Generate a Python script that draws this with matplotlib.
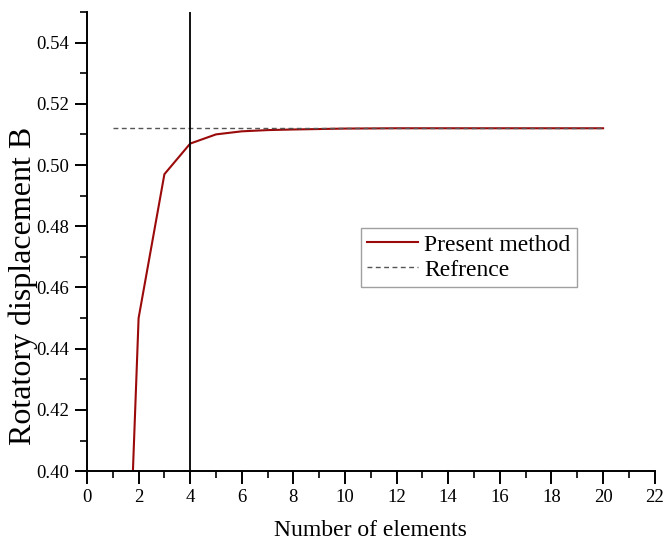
import matplotlib
matplotlib.use("Agg")
import matplotlib.pyplot as plt
from matplotlib.ticker import MultipleLocator

# data
elements = [1, 2, 3, 4, 5, 6, 7, 8, 10, 12, 14, 16, 18, 20]
present = [0.223, 0.450, 0.497, 0.507, 0.510, 0.5110, 0.5114, 0.5116, 0.5119, 0.5120, 0.5120, 0.5120, 0.5120, 0.5120]
ref_x = [1, 20]
ref_y = [0.512, 0.512]
cut_x = 4

plt.rcParams['font.family'] = ['Liberation Serif', 'DejaVu Serif']

fig = plt.figure(figsize=(6.64, 5.41), dpi=100)
ax = fig.add_axes([0.131, 0.129, 0.855, 0.849])

ax.plot(elements, present, color='#9b0a0a', lw=1.5, label='Present method')
ax.plot(ref_x, ref_y, color='#555555', lw=1.0, ls=(0, (3.5, 2.5)), label='Refrence')
ax.axvline(cut_x, color='black', lw=1.3)

ax.set_xlim(0, 22)
ax.set_ylim(0.40, 0.55)
ax.xaxis.set_major_locator(MultipleLocator(2))
ax.xaxis.set_minor_locator(MultipleLocator(1))
ax.yaxis.set_minor_locator(MultipleLocator(0.01))
ax.set_yticks([0.40, 0.42, 0.44, 0.46, 0.48, 0.50, 0.52, 0.54])
ax.yaxis.set_major_formatter(plt.FormatStrFormatter('%.2f'))

for s in ['top', 'right']:
    ax.spines[s].set_visible(False)
for s in ['left', 'bottom']:
    ax.spines[s].set_linewidth(1.4)

ax.tick_params(which='major', direction='out', length=9, width=1.4, labelsize=13.5, pad=4)
ax.tick_params(which='minor', direction='out', length=5, width=1.2)

ax.set_xlabel('Number of elements', fontsize=17, labelpad=10)
ax.set_ylabel('Rotatory displacement B', fontsize=23)
ax.yaxis.set_label_coords(-0.086, 0.403)

leg = ax.legend(loc='upper left', bbox_to_anchor=(0.482, 0.529), fontsize=17,
                frameon=True, fancybox=False, edgecolor='#888888',
                handlelength=2.2, handletextpad=0.25, borderpad=0.25,
                labelspacing=0.15, borderaxespad=0)
leg.get_frame().set_linewidth(1.0)

fig.savefig('out.png', dpi=100)
